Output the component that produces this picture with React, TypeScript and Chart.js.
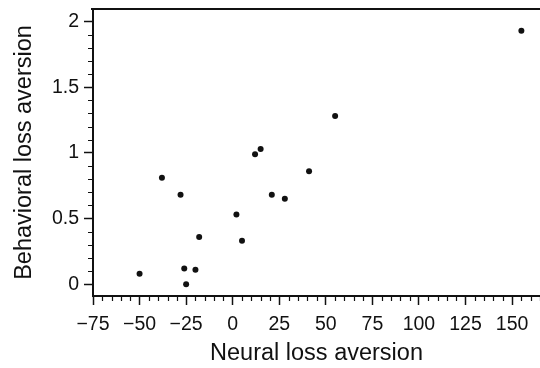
import { useEffect, useRef } from 'react';
import { Chart, registerables } from 'chart.js';

Chart.register(...registerables);

// Data
const neuralLossAversion = [-50, -38, -28, -26, -25, -20, -18, 2, 5, 12, 15, 21, 28, 41, 55, 155];
const behavioralLossAversion = [0.08, 0.81, 0.68, 0.12, 0.0, 0.11, 0.36, 0.53, 0.33, 0.99, 1.03, 0.68, 0.65, 0.86, 1.28, 1.93];

const xTickValues = [-75, -50, -25, 0, 25, 50, 75, 100, 125, 150];
const xTickLabels = ['\u221275', '\u221250', '\u221225', '0', '25', '50', '75', '100', '125', '150'];
const yTickValues = [0, 0.5, 1, 1.5, 2];
const yTickLabels = ['0', '0.5', '1', '1.5', '2'];

const xTitle = 'Neural loss aversion';
const yTitle = 'Behavioral loss aversion';

const X_MIN = -75;
const X_MAX = 165;
const Y_MIN = -0.09;
const Y_MAX = 2.095;
const X_MINOR_STEP = 5;
const Y_MINOR_STEP = 0.1;

const FONT = '"Liberation Sans", Arial, Helvetica, sans-serif';
const INK = '#111';

const minorTicksPlugin = {
  id: 'minorTicks',
  afterDraw(chart: any) {
    const { ctx, chartArea, scales } = chart;
    const x = scales.x;
    const y = scales.y;
    ctx.save();
    ctx.strokeStyle = INK;
    ctx.lineWidth = 1.2;
    ctx.beginPath();
    for (let v = X_MIN; v <= X_MAX + 1e-9; v += X_MINOR_STEP) {
      if (xTickValues.some((t) => Math.abs(t - v) < 1e-6)) continue;
      const px = Math.round(x.getPixelForValue(v)) + 0.5;
      ctx.moveTo(px, chartArea.bottom);
      ctx.lineTo(px, chartArea.bottom + 5);
    }
    for (let v = 0; v <= 2 + 1e-9; v += Y_MINOR_STEP) {
      if (yTickValues.some((t) => Math.abs(t - v) < 1e-6)) continue;
      const py = Math.round(y.getPixelForValue(v)) + 0.5;
      ctx.moveTo(chartArea.left - 5, py);
      ctx.lineTo(chartArea.left, py);
    }
    ctx.stroke();
    // top frame line
    ctx.lineWidth = 2;
    ctx.beginPath();
    ctx.moveTo(chartArea.left - 2, chartArea.top);
    ctx.lineTo(chart.width, chartArea.top);
    ctx.stroke();
    ctx.restore();
  },
};

export default function App() {
  const canvasRef = useRef<HTMLCanvasElement | null>(null);

  useEffect(() => {
    document.body.style.margin = '0';
    const canvas = canvasRef.current;
    if (!canvas) return;
    const points = neuralLossAversion.map((v, i) => ({ x: v, y: behavioralLossAversion[i] }));
    const chart = new Chart(canvas, {
      type: 'scatter',
      data: {
        datasets: [
          {
            data: points,
            backgroundColor: INK,
            borderColor: INK,
            pointRadius: 3,
            pointBorderWidth: 0,
          },
        ],
      },
      plugins: [minorTicksPlugin],
      options: {
        responsive: false,
        animation: false,
        layout: { autoPadding: false, padding: { top: 9, right: 0, left: 0, bottom: 0 } },
        plugins: {
          legend: { display: false },
          tooltip: { enabled: false },
        },
        scales: {
          x: {
            type: 'linear',
            min: X_MIN,
            max: X_MAX,
            afterFit: (scale: any) => {
              scale.height = 72;
              scale.paddingRight = 0;
              scale.paddingLeft = 0;
            },
            afterBuildTicks: (scale: any) => {
              scale.ticks = xTickValues.map((v) => ({ value: v }));
            },
            ticks: {
              includeBounds: false,
              autoSkip: false,
              maxRotation: 0,
              padding: 8,
              color: INK,
              font: { family: FONT, size: 19.5 },
              callback: (value: any) => {
                const i = xTickValues.indexOf(Number(value));
                return i >= 0 ? xTickLabels[i] : '';
              },
            },
            grid: {
              drawOnChartArea: false,
              drawTicks: true,
              tickLength: 9,
              tickColor: INK,
              tickWidth: 1.5,
            },
            border: { display: true, color: INK, width: 2 },
            title: {
              display: true,
              text: xTitle,
              color: INK,
              font: { family: FONT, size: 23.5 },
              padding: { top: 0, bottom: 0 },
            },
          },
          y: {
            type: 'linear',
            min: Y_MIN,
            max: Y_MAX,
            afterFit: (scale: any) => {
              scale.width = 93;
              scale.paddingTop = 0;
              scale.paddingBottom = 0;
            },
            afterBuildTicks: (scale: any) => {
              scale.ticks = yTickValues.map((v) => ({ value: v }));
            },
            ticks: {
              includeBounds: false,
              autoSkip: false,
              padding: 5,
              color: INK,
              font: { family: FONT, size: 19.5 },
              callback: (value: any) => {
                const i = yTickValues.indexOf(Number(value));
                return i >= 0 ? yTickLabels[i] : '';
              },
            },
            grid: {
              drawOnChartArea: false,
              drawTicks: true,
              tickLength: 9,
              tickColor: INK,
              tickWidth: 1.5,
            },
            border: { display: true, color: INK, width: 2 },
            title: {
              display: true,
              text: yTitle,
              color: INK,
              font: { family: FONT, size: 23.5 },
              padding: { top: 10, bottom: 0 },
            },
          },
        },
      },
    });
    return () => chart.destroy();
  }, []);

  return (
    <div style={{ width: 540, height: 368, background: '#fff' }}>
      <canvas ref={canvasRef} width={540} height={368} style={{ display: 'block', width: 540, height: 368 }} />
    </div>
  );
}
